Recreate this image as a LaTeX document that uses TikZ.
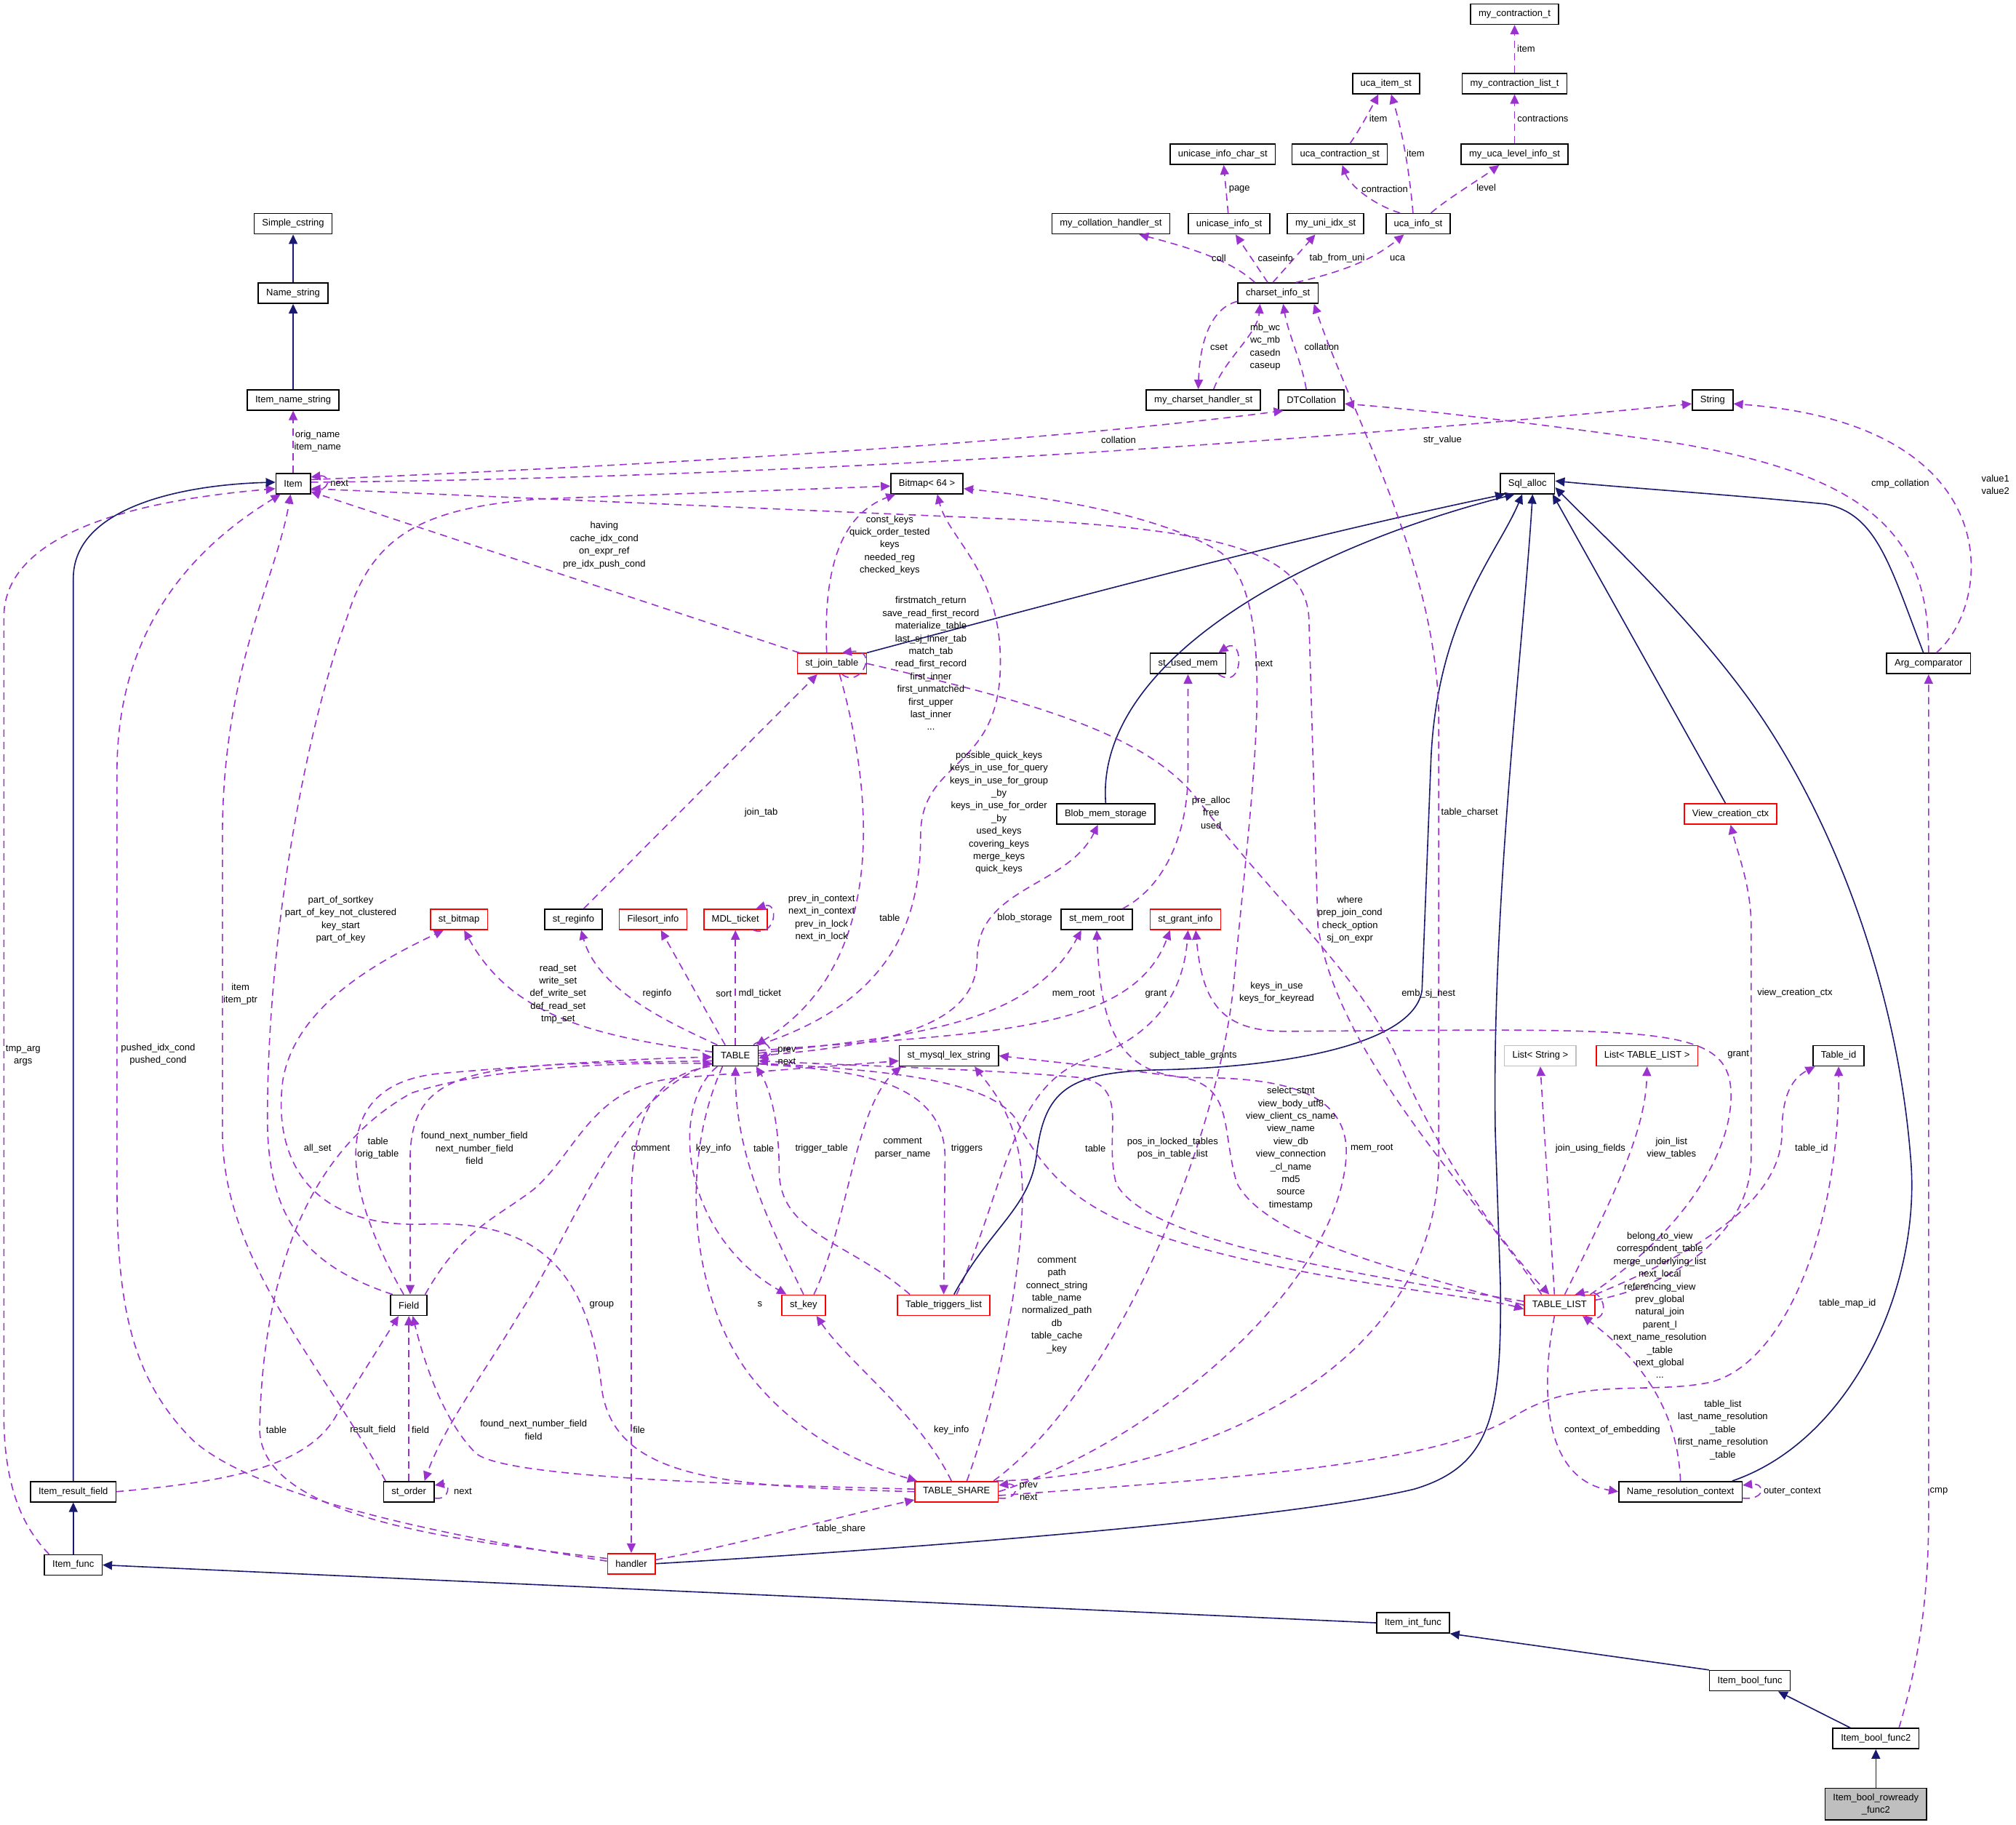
\documentclass[tikz,border=0pt]{standalone}
\usepackage{fontspec}
\setmainfont{Liberation Sans}
\usetikzlibrary{arrows.meta}
\usetikzlibrary{calc}
\definecolor{depcol}{HTML}{9A32CD}
\definecolor{inhcol}{HTML}{191970}
\definecolor{redbox}{HTML}{FF0000}
\definecolor{graybox}{HTML}{BFBFBF}
\tikzset{
    every node/.append style={font=\fontsize{13}{17.4}\selectfont},
    cls/.style={draw=black, line width=1.6pt, fill=white, inner xsep=11pt, inner ysep=2pt, minimum height=28pt},
    clsred/.style={cls, draw=redbox},
    clsgray/.style={cls, draw=graybox},
    clsmain/.style={cls, fill=graybox, align=center, inner ysep=7pt},
    dep/.style={depcol, line width=1.6pt, dash pattern=on 10pt off 7pt, -{Triangle[length=13pt,width=12pt]}},
    inh/.style={inhcol, line width=1.6pt, -{Triangle[length=13pt,width=12pt]}},
    lbl/.style={align=center, inner sep=0pt},
    x=1.768pt, y=-1.768pt
}
\begin{document}
\begin{tikzpicture}
\path[use as bounding box, fill=white] (0,0) rectangle (1568,1419);

\node[cls] (mct) at (1178,11) {my\_contraction\_t};
\node[cls] (uis) at (1078,65) {uca\_item\_st};
\node[cls] (mclt) at (1178,65) {my\_contraction\_list\_t};
\node[cls] (uicst) at (951,120) {unicase\_info\_char\_st};
\node[cls] (ucst) at (1042,120) {uca\_contraction\_st};
\node[cls] (mulis) at (1178,120) {my\_uca\_level\_info\_st};
\node[cls] (mchs) at (864,174) {my\_collation\_handler\_st};
\node[cls] (uist) at (956,174) {unicase\_info\_st};
\node[cls] (muist) at (1031,174) {my\_uni\_idx\_st};
\node[cls] (ucainfo) at (1103,174) {uca\_info\_st};
\node[cls] (csinfo) at (994,228) {charset\_info\_st};
\node[cls] (mcharh) at (936,311) {my\_charset\_handler\_st};
\node[cls] (dtcoll) at (1020,311) {DTCollation};
\node[cls] (String) at (1332,311) {String};
\node[cls] (SimpleCs) at (228,174) {Simple\_cstring};
\node[cls] (NameStr) at (228,228) {Name\_string};
\node[cls] (ItemNameStr) at (228,311) {Item\_name\_string};
\node[cls] (Item) at (228,376) {Item};
\node[cls] (Bitmap) at (721,376) {Bitmap< 64 >};
\node[cls] (SqlAlloc) at (1188,376) {Sql\_alloc};
\node[clsred] (JoinTab) at (647,516) {st\_join\_table};
\node[cls] (UsedMem) at (924,516) {st\_used\_mem};
\node[cls] (ArgCmp) at (1500,516) {Arg\_comparator};
\node[cls] (BlobMem) at (860,633) {Blob\_mem\_storage};
\node[clsred] (ViewCtx) at (1346,633) {View\_creation\_ctx};
\node[clsred] (StBitmap) at (357,715) {st\_bitmap};
\node[cls] (RegInfo) at (446,715) {st\_reginfo};
\node[clsred] (Filesort) at (508,715) {Filesort\_info};
\node[clsred] (MDL) at (572,715) {MDL\_ticket};
\node[cls] (MemRoot) at (853,715) {st\_mem\_root};
\node[clsred] (GrantInfo) at (922,715) {st\_grant\_info};
\node[cls] (TABLE) at (572,821) {TABLE};
\node[cls] (LexStr) at (738,821) {st\_mysql\_lex\_string};
\node[clsgray] (ListStr) at (1198,821) {List< String >};
\node[clsred] (ListTL) at (1281,821) {List< TABLE\_LIST >};
\node[cls] (TableId) at (1430,821) {Table\_id};
\node[cls] (Field) at (318,1015) {Field};
\node[clsred] (StKey) at (625,1015) {st\_key};
\node[clsred] (Triggers) at (734,1015) {Table\_triggers\_list};
\node[clsred] (TableList) at (1213,1015) {TABLE\_LIST};
\node[cls] (ResultField) at (57,1160) {Item\_result\_field};
\node[cls] (StOrder) at (318,1160) {st\_order};
\node[clsred] (Share) at (744,1160) {TABLE\_SHARE};
\node[cls] (NameRes) at (1307,1160) {Name\_resolution\_context};
\node[cls] (ItemFunc) at (57,1217) {Item\_func};
\node[clsred] (Handler) at (491,1216) {handler};
\node[cls] (IntFunc) at (1099,1262) {Item\_int\_func};
\node[cls] (BoolFunc) at (1361,1307) {Item\_bool\_func};
\node[cls] (BoolFunc2) at (1459,1352) {Item\_bool\_func2};
\node[clsmain] (Rowready) at (1459,1403) {Item\_bool\_rowready\\\_func2};

\draw[dep] (mclt) -- (mct);
\draw[dep] (mulis) -- (mclt);
\draw[dep] ($(ucst.north)+(8,0)$) .. controls (1058,100) and (1066,85) .. ($(uis.south)+(-6,0)$);
\draw[dep] ($(ucainfo.north)+(-4,0)$) .. controls (1096,130) and (1090,100) .. ($(uis.south)+(4,0)$);
\draw[dep] (uist) -- (uicst);
\draw[dep] ($(ucainfo.north)+(-14,0)$) .. controls (1070,160) and (1050,145) .. ($(ucst.south)+(2,0)$);
\draw[dep] ($(ucainfo.north)+(10,0)$) .. controls (1125,155) and (1150,140) .. ($(mulis.south)+(-12,0)$);
\draw[dep] ($(csinfo.north)+(-18,0)$) .. controls (960,205) and (935,195) .. ($(mchs.south)+(22,0)$);
\draw[dep] ($(csinfo.north)+(-8,0)$) -- ($(uist.south)+(5,0)$);
\draw[dep] ($(csinfo.north)+(-4,0)$) -- ($(muist.south)+(-8,0)$);
\draw[dep] ($(csinfo.north)+(14,0)$) .. controls (1050,210) and (1070,200) .. ($(ucainfo.south)+(-11,0)$);
\draw[dep] ($(csinfo.south west)+(0,-2)$) .. controls (940,240) and (933,270) .. ($(mcharh.north)+(-4,0)$);
\draw[dep] ($(mcharh.north)+(8,0)$) .. controls (952,280) and (978,260) .. ($(csinfo.south)+(-14,0)$);
\draw[dep] ($(dtcoll.north)+(-4,0)$) .. controls (1012,280) and (1002,260) .. ($(csinfo.south)+(4,0)$);

\draw[inh] (NameStr) -- (SimpleCs);
\draw[inh] (ItemNameStr) -- (NameStr);
\draw[dep] (Item) -- (ItemNameStr);
\draw[dep] ($(Item.east)+(0,-3)$) .. controls (500,362) and (800,345) .. ($(dtcoll.south west)+(4,0)$);
\draw[dep] ($(Item.east)+(0,-1)$) .. controls (600,372) and (1000,345) .. ($(String.west)+(0,3)$);
\draw[dep] ($(ArgCmp.north)+(6,0)$) .. controls (1550,470) and (1565,330) .. ($(String.east)+(0,3)$);
\draw[dep] (ArgCmp.north) .. controls (1500,420) and (1460,370) .. (1300,344) .. controls (1200,330) and (1100,318) .. ($(dtcoll.east)+(0,3)$);
\draw[inh] ($(ArgCmp.north)+(-4,0)$) .. controls (1470,440) and (1460,400) .. (1420,392) .. controls (1350,385) and (1260,379) .. ($(SqlAlloc.east)+(0,-2)$);
\draw[dep] ($(Item.east)+(0,5)$) .. controls +(16,2) and +(16,-2) .. ($(Item.east)+(0,-5)$);
\draw[dep] ($(ItemFunc.north west)+(4,0)$) .. controls (20,1190) and (3,1160) .. (3,1100) -- (3,480) .. controls (3,410) and (120,388) .. ($(Item.west)+(0,4)$);
\draw[inh] (ResultField.north) -- (57,450) .. controls (57,395) and (140,377) .. ($(Item.west)+(0,-1)$);
\draw[inh] (ItemFunc) -- (ResultField);
\draw[dep] ($(Handler.west)+(0,-2)$) .. controls (350,1195) and (200,1165) .. (150,1120) .. controls (100,1070) and (91,1010) .. (91,920) -- (91,600) .. controls (91,480) and (160,420) .. ($(Item.south west)+(4,0)$);
\draw[dep] ($(StOrder.north west)+(2,0)$) .. controls (250,1060) and (173,980) .. (173,880) -- (173,650) .. controls (173,520) and (215,450) .. ($(Item.south)+(-2,0)$);
\draw[dep] ($(Field.north west)+(2,0)$) .. controls (240,985) and (208,950) .. (208,870) .. controls (208,720) and (240,560) .. (270,480) .. controls (290,415) and (330,395) .. (420,388) -- ($(Bitmap.west)+(0,2)$);
\draw[dep] ($(JoinTab.north west)+(2,0)$) -- ($(Item.south east)+(0,-2)$);
\draw[dep] ($(JoinTab.north)+(-4,0)$) .. controls (640,440) and (655,400) .. ($(Bitmap.south west)+(4,0)$);
\draw[dep] ($(JoinTab.south)+(8,0)$) .. controls +(14,12) and +(30,-4) .. ($(JoinTab.north)+(8,0)$);
\draw[inh] (JoinTab.north east) .. controls (800,474) and (1000,420) .. ($(SqlAlloc.south west)+(4,0)$);
\draw[dep] ($(JoinTab.south)+(6,0)$) .. controls (680,620) and (690,750) .. ($(TABLE.north east)+(-2,0)$);
\draw[dep] ($(RegInfo.north)+(8,0)$) -- ($(JoinTab.south west)+(16,0)$);
\draw[dep] (TABLE.north east) .. controls (690,780) and (716,720) .. (716,650) .. controls (716,590) and (776,600) .. (778,520) .. controls (780,445) and (738,420) .. ($(Bitmap.south)+(8,0)$);
\draw[dep] ($(TABLE.west)+(0,-3)$) .. controls (450,805) and (395,785) .. ($(StBitmap.south)+(4,0)$);
\draw[dep] ($(TABLE.north west)+(4,0)$) .. controls (520,795) and (465,770) .. ($(RegInfo.south)+(6,0)$);
\draw[dep] ($(TABLE.north)+(-8,0)$) -- ($(Filesort.south)+(6,0)$);
\draw[dep] (TABLE.north) -- (MDL.south);
\draw[dep] ($(MDL.south)+(14,0)$) .. controls +(18,6) and +(18,-6) .. ($(MDL.north)+(16,0)$);
\draw[dep] (TABLE.east) .. controls (700,812) and (760,795) .. (760,745) .. controls (760,690) and (830,690) .. ($(BlobMem.south)+(-6,0)$);
\draw[inh] (BlobMem.north) .. controls (852,520) and (1000,430) .. ($(SqlAlloc.south)+(-10,0)$);
\draw[dep] ($(UsedMem.south east)+(-6,0)$) .. controls +(20,14) and +(20,-14) .. ($(UsedMem.north east)+(-6,0)$);
\draw[dep] ($(MemRoot.north east)+(-8,0)$) .. controls (905,690) and (924,650) .. (924,600) -- (UsedMem.south);
\draw[dep] ($(TABLE.east)+(0,-2)$) .. controls (700,806) and (800,800) .. ($(MemRoot.south)+(-12,0)$);
\draw[dep] ($(TABLE.east)+(0,-4)$) .. controls (760,803) and (880,805) .. ($(GrantInfo.south)+(-12,0)$);
\draw[dep] ($(Triggers.north)+(10,0)$) .. controls (780,930) and (785,850) .. (840,826) .. controls (890,810) and (920,780) .. ($(GrantInfo.south)+(2,0)$);
\draw[dep] ($(TableList.north east)+(-4,0)$) .. controls (1320,950) and (1350,885) .. (1346,845) .. controls (1342,806) and (1300,801) .. (1150,801) -- (1000,802) .. controls (950,802) and (935,780) .. ($(GrantInfo.south)+(8,0)$);
\draw[dep] ($(StKey.north)+(8,0)$) .. controls (660,950) and (665,860) .. ($(LexStr.south west)+(2,0)$);
\draw[dep] ($(TABLE.north east)+(-4,0)$) .. controls +(8,-8) and +(14,-4) .. ($(TABLE.east)+(0,2)$);
\draw[dep] ($(Field.north)+(-4,0)$) .. controls (270,930) and (250,845) .. (340,835) .. controls (420,828) and (500,823) .. ($(TABLE.west)+(0,1)$);
\draw[dep] ($(TABLE.west)+(0,4)$) .. controls (380,828) and (320,825) .. (319,900) -- ($(Field.north)+(1,0)$);
\draw[dep] (Share.west) .. controls (560,1156) and (478,1150) .. (468,1080) .. controls (458,990) and (420,948) .. (330,952) .. controls (240,955) and (212,900) .. (220,840) .. controls (230,780) and (300,745) .. ($(StBitmap.south)+(-12,0)$);
\draw[dep] ($(Share.west)+(0,-2)$) .. controls (550,1154) and (390,1148) .. (370,1130) .. controls (345,1105) and (330,1060) .. ($(Field.south)+(3,0)$);
\draw[dep] (ResultField.east) .. controls (180,1152) and (240,1140) .. (262,1100) -- ($(Field.south)+(-8,0)$);
\draw[dep] (StOrder.north) -- (Field.south);
\draw[dep] ($(StOrder.east)+(0,5)$) .. controls +(12,2) and +(12,-2) .. ($(StOrder.east)+(0,-5)$);
\draw[dep] ($(Handler.west)+(0,-4)$) .. controls (380,1200) and (200,1185) .. (202,1110) .. controls (204,1010) and (230,900) .. (320,850) .. controls (380,830) and (480,826) .. ($(TABLE.west)+(0,6)$);
\draw[dep] ($(TABLE.south west)+(4,0)$) .. controls (520,860) and (530,960) .. ($(StKey.north west)+(4,0)$);
\draw[dep] (StKey.north) .. controls (600,955) and (572,900) .. (TABLE.south);
\draw[dep] ($(Triggers.north west)+(10,0)$) .. controls (660,965) and (606,960) .. (606,910) .. controls (606,870) and (598,845) .. ($(TABLE.south east)+(-2,0)$);
\draw[dep] ($(TABLE.south east)+(0,-2)$) .. controls (650,832) and (735,835) .. (735,900) -- (Triggers.north);
\draw[inh] ($(Triggers.north)+(8,0)$) .. controls (770,955) and (800,940) .. (806,900) .. controls (812,848) and (830,834) .. (900,832) .. controls (1000,830) and (1100,812) .. (1106,770) -- (1113,590) .. controls (1118,480) and (1165,430) .. ($(SqlAlloc.south)+(-4,0)$);
\draw[dep] ($(TABLE.south west)+(8,0)$) .. controls (530,900) and (535,1000) .. (580,1065) .. controls (620,1120) and (680,1142) .. ($(Share.north west)+(2,0)$);
\draw[dep] ($(Field.north east)+(-2,0)$) .. controls (360,955) and (385,948) .. (415,925) .. controls (450,895) and (460,843) .. (530,838) -- ($(LexStr.west)+(0,4)$);
\draw[dep] ($(TABLE.south west)+(-2,0)$) .. controls (515,835) and (492,860) .. (491,930) -- (Handler.north);
\draw[dep] ($(TABLE.south west)+(0,-2)$) .. controls (480,850) and (445,960) .. (405,1020) .. controls (375,1070) and (345,1110) .. ($(StOrder.north east)+(-8,0)$);
\draw[dep] ($(Handler.east)+(0,-3)$) .. controls (580,1200) and (650,1180) .. ($(Share.south west)+(0,-2)$);
\draw[inh] (Handler.east) .. controls (700,1205) and (1000,1182) .. (1100,1158) .. controls (1160,1140) and (1168,1100) .. (1167,1000) -- (1163,880) .. controls (1160,700) and (1185,500) .. ($(SqlAlloc.south)+(4,0)$);
\draw[dep] ($(Share.north)+(-4,0)$) .. controls (715,1100) and (660,1060) .. ($(StKey.south)+(10,0)$);
\draw[dep] ($(Share.east)+(0,5)$) .. controls +(16,2) and +(16,-2) .. ($(Share.east)+(0,-5)$);
\draw[dep] ($(Share.north)+(8,0)$) .. controls (785,1060) and (797,960) .. (795,920) .. controls (793,870) and (770,845) .. ($(LexStr.south)+(20,0)$);
\draw[dep] ($(Share.north east)+(-4,0)$) .. controls (870,1080) and (950,880) .. (960,760) .. controls (975,600) and (995,470) .. (950,430) .. controls (900,398) and (800,385) .. ($(Bitmap.east)+(0,4)$);
\draw[dep] (Share.east) .. controls (900,1120) and (1040,1000) .. (1047,900) .. controls (1050,850) and (1000,838) .. (930,838) .. controls (870,838) and (856,800) .. (MemRoot.south);
\draw[dep] ($(Share.north east)+(-2,0)$) .. controls (900,1150) and (1119,1080) .. (1119,900) -- (1119,560) .. controls (1119,440) and (1050,320) .. ($(csinfo.south)+(28,0)$);
\draw[dep] (TableList.west) .. controls (1100,990) and (985,965) .. (962,920) .. controls (950,880) and (960,845) .. (920,838) .. controls (880,832) and (820,826) .. (LexStr.east);
\draw[dep] ($(TableList.west)+(0,-3)$) .. controls (1050,990) and (890,965) .. (868,920) .. controls (858,880) and (880,845) .. (840,838) .. controls (780,832) and (650,828) .. ($(TABLE.east)+(0,4)$);
\draw[dep] ($(TABLE.east)+(0,6)$) .. controls (700,832) and (770,842) .. (790,870) .. controls (820,930) and (860,952) .. (950,975) .. controls (1050,1000) and (1150,1008) .. ($(TableList.west)+(0,3)$);
\draw[dep] (JoinTab.east) .. controls (800,545) and (890,570) .. (930,620) .. controls (1000,710) and (1060,760) .. (1090,830) .. controls (1120,900) and (1170,970) .. ($(TableList.north)+(-8,0)$);
\draw[dep] ($(TableList.north)+(-14,0)$) .. controls (1140,920) and (1040,820) .. (1025,720) -- (1018,480) .. controls (1015,430) and (950,412) .. (792,404) -- ($(Item.east)+(0,4)$);
\draw[dep] ($(TableList.south)+(20,0)$) .. controls +(20,10) and +(26,-6) .. ($(TableList.north)+(12,0)$);
\draw[dep] ($(TableList.north)+(-4,0)$) -- (ListStr.south);
\draw[dep] ($(TableList.north)+(4,0)$) .. controls (1255,930) and (1280,880) .. (ListTL.south);
\draw[dep] (TableList.north east) .. controls (1330,970) and (1386,930) .. (1386,880) .. controls (1386,850) and (1395,838) .. ($(TableId.south west)+(2,0)$);
\draw[dep] ($(Share.east)+(0,3)$) .. controls (950,1150) and (1120,1140) .. (1180,1100) .. controls (1230,1070) and (1280,1085) .. (1330,1075) .. controls (1390,1060) and (1431,950) .. (TableId.south);
\draw[dep] ($(TableList.east)+(0,-4)$) .. controls (1300,1000) and (1362,960) .. (1362,900) -- (1362,720) .. controls (1362,690) and (1352,665) .. (ViewCtx.south);
\draw[inh] ($(ViewCtx.north)+(-4,0)$) -- ($(SqlAlloc.south east)+(-2,0)$);
\draw[dep] ($(TableList.south)+(-4,0)$) .. controls (1198,1080) and (1200,1150) .. (NameRes.west);
\draw[dep] (NameRes.north) .. controls (1305,1100) and (1280,1060) .. ($(TableList.south east)+(-10,0)$);
\draw[dep] ($(NameRes.east)+(0,5)$) .. controls +(18,2) and +(18,-2) .. ($(NameRes.east)+(0,-5)$);
\draw[inh] ($(NameRes.north east)+(-8,0)$) .. controls (1440,1120) and (1495,1000) .. (1486,900) .. controls (1475,760) and (1420,620) .. (1350,530) .. controls (1300,465) and (1240,410) .. ($(SqlAlloc.east)+(0,3)$);
\draw[inh] (IntFunc.west) -- (ItemFunc.east);
\draw[inh] (BoolFunc.north west) -- (IntFunc.south east);
\draw[inh] ($(BoolFunc2.north west)+(14,0)$) -- ($(BoolFunc.south)+(22,0)$);
\draw[inh] (Rowready.north) -- (BoolFunc2.south);
\draw[dep] ($(BoolFunc2.north)+(18,0)$) .. controls (1490,1300) and (1500,1250) .. (1500,1180) -- (ArgCmp.south);

\node[lbl] (l01) at (1187,38) {item};
\node[lbl] (l02) at (1072,92) {item};
\node[lbl] (l03) at (1200,92) {contractions};
\node[lbl] (l04) at (1101,119) {item};
\node[lbl] (l05) at (964,147) {page};
\node[lbl] (l06) at (1077,147) {contraction};
\node[lbl] (l07) at (1156,146) {level};
\node[lbl] (l08) at (948,201) {coll};
\node[lbl] (l09) at (992,201) {caseinfo};
\node[lbl] (l10) at (1040,201) {tab\_from\_uni};
\node[lbl] (l11) at (1087,201) {uca};
\node[lbl] (l12) at (948,270) {cset};
\node[lbl] (l13) at (984,270) {mb\_wc\\wc\_mb\\casedn\\caseup};
\node[lbl] (l14) at (1028,270) {collation};
\node[lbl] (l15) at (247,343) {orig\_name\\item\_name};
\node[lbl] (l16) at (870,342) {collation};
\node[lbl] (l17) at (1122,342) {str\_value};
\node[lbl] (l18) at (1552,377) {value1\\value2};
\node[lbl] (l19) at (1478,376) {cmp\_collation};
\node[lbl] (l20) at (264,376) {next};
\node[lbl] (l21) at (470,424) {having\\cache\_idx\_cond\\on\_expr\_ref\\pre\_idx\_push\_cond};
\node[lbl] (l22) at (692,424) {const\_keys\\quick\_order\_tested\\keys\\needed\_reg\\checked\_keys};
\node[lbl] (l23) at (724,516) {firstmatch\_return\\save\_read\_first\_record\\materialize\_table\\last\_sj\_inner\_tab\\match\_tab\\read\_first\_record\\first\_inner\\first\_unmatched\\first\_upper\\last\_inner\\...};
\node[lbl] (l24) at (777,632) {possible\_quick\_keys\\keys\_in\_use\_for\_query\\keys\_in\_use\_for\_group\\\_by\\keys\_in\_use\_for\_order\\\_by\\used\_keys\\covering\_keys\\merge\_keys\\quick\_keys};
\node[lbl] (l25) at (592,632) {join\_tab};
\node[lbl] (l26) at (942,632) {pre\_alloc\\free\\used};
\node[lbl] (l27) at (1143,632) {table\_charset};
\node[lbl] (l28) at (983,516) {next};
\node[lbl] (l29) at (265,715) {part\_of\_sortkey\\part\_of\_key\_not\_clustered\\key\_start\\part\_of\_key};
\node[lbl] (l30) at (639,714) {prev\_in\_context\\next\_in\_context\\prev\_in\_lock\\next\_in\_lock};
\node[lbl] (l31) at (692,714) {table};
\node[lbl] (l32) at (797,714) {blob\_storage};
\node[lbl] (l33) at (1050,715) {where\\prep\_join\_cond\\check\_option\\sj\_on\_expr};
\node[lbl] (l34) at (434,773) {read\_set\\write\_set\\def\_write\_set\\def\_read\_set\\tmp\_set};
\node[lbl] (l35) at (511,773) {reginfo};
\node[lbl] (l36) at (563,773) {sort};
\node[lbl] (l37) at (591,773) {mdl\_ticket};
\node[lbl] (l38) at (835,773) {mem\_root};
\node[lbl] (l39) at (899,773) {grant};
\node[lbl] (l40) at (993,772) {keys\_in\_use\\keys\_for\_keyread};
\node[lbl] (l41) at (1111,773) {emb\_sj\_nest};
\node[lbl] (l42) at (1396,772) {view\_creation\_ctx};
\node[lbl] (l43) at (187,773) {item\\item\_ptr};
\node[lbl] (l44) at (123,820) {pushed\_idx\_cond\\pushed\_cond};
\node[lbl] (l45) at (18,821) {tmp\_arg\\args};
\node[lbl] (l46) at (612,821) {prev\\next};
\node[lbl] (l47) at (928,821) {subject\_table\_grants};
\node[lbl] (l48) at (1352,820) {grant};
\node[lbl] (l49) at (247,893) {all\_set};
\node[lbl] (l50) at (294,893) {table\\orig\_table};
\node[lbl] (l51) at (369,893) {found\_next\_number\_field\\next\_number\_field\\field};
\node[lbl] (l52) at (506,893) {comment};
\node[lbl] (l53) at (555,893) {key\_info};
\node[lbl] (l54) at (594,893) {table};
\node[lbl] (l55) at (639,893) {trigger\_table};
\node[lbl] (l56) at (702,893) {comment\\parser\_name};
\node[lbl] (l57) at (752,893) {triggers};
\node[lbl] (l58) at (852,893) {table};
\node[lbl] (l59) at (912,893) {pos\_in\_locked\_tables\\pos\_in\_table\_list};
\node[lbl] (l60) at (1004,893) {select\_stmt\\view\_body\_utf8\\view\_client\_cs\_name\\view\_name\\view\_db\\view\_connection\\\_cl\_name\\md5\\source\\timestamp};
\node[lbl] (l61) at (1067,893) {mem\_root};
\node[lbl] (l62) at (1237,893) {join\_using\_fields};
\node[lbl] (l63) at (1300,893) {join\_list\\view\_tables};
\node[lbl] (l64) at (1409,893) {table\_id};
\node[lbl] (l65) at (468,1015) {group};
\node[lbl] (l66) at (591,1014) {s};
\node[lbl] (l67) at (822,1015) {comment\\path\\connect\_string\\table\_name\\normalized\_path\\db\\table\_cache\\\_key};
\node[lbl] (l68) at (1291,1015) {belong\_to\_view\\correspondent\_table\\merge\_underlying\_list\\next\_local\\referencing\_view\\prev\_global\\natural\_join\\parent\_l\\next\_name\_resolution\\\_table\\next\_global\\...};
\node[lbl] (l69) at (1437,1014) {table\_map\_id};
\node[lbl] (l70) at (215,1112) {table};
\node[lbl] (l71) at (290,1112) {result\_field};
\node[lbl] (l72) at (327,1112) {field};
\node[lbl] (l73) at (415,1112) {found\_next\_number\_field\\field};
\node[lbl] (l74) at (497,1112) {file};
\node[lbl] (l75) at (740,1112) {key\_info};
\node[lbl] (l76) at (1254,1112) {context\_of\_embedding};
\node[lbl] (l77) at (1340,1112) {table\_list\\last\_name\_resolution\\\_table\\first\_name\_resolution\\\_table};
\node[lbl] (l78) at (360,1160) {next};
\node[lbl] (l79) at (800,1160) {prev\\next};
\node[lbl] (l80) at (1394,1160) {outer\_context};
\node[lbl] (l81) at (1508,1160) {cmp};
\node[lbl] (l82) at (654,1189) {table\_share};
\end{tikzpicture}
\end{document}
